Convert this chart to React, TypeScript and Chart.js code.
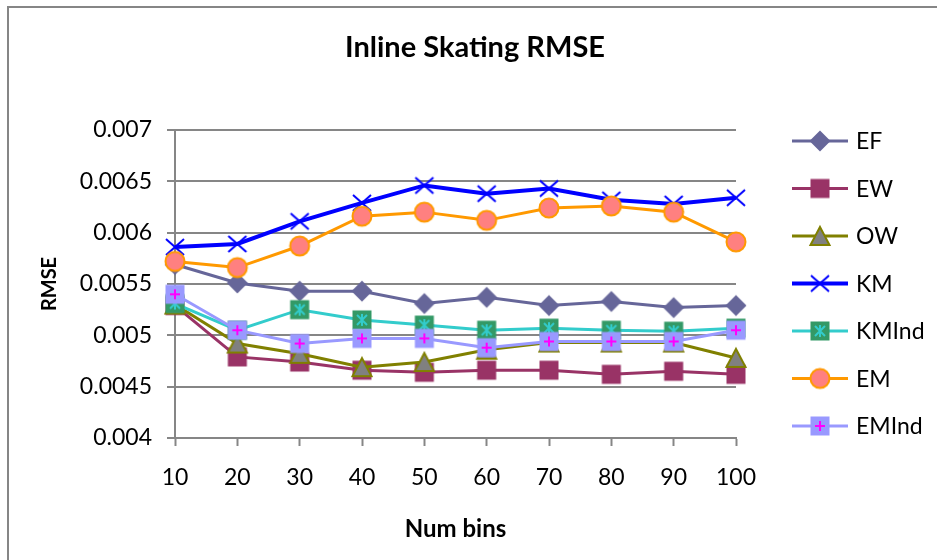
import React, { useEffect, useRef } from "react";
import { Chart, registerables } from "chart.js";

Chart.register(...registerables);

const categories = ["10", "20", "30", "40", "50", "60", "70", "80", "90", "100"];
const EF = [0.00569, 0.00551, 0.00543, 0.00543, 0.00531, 0.00537, 0.00529, 0.00533, 0.00527, 0.00529];
const EW = [0.00529, 0.00479, 0.00474, 0.00466, 0.00464, 0.00466, 0.00466, 0.00462, 0.00465, 0.00462];
const OW = [0.0053, 0.00492, 0.00482, 0.00469, 0.00474, 0.00486, 0.00493, 0.00493, 0.00493, 0.00478];
const KM = [0.00586, 0.00589, 0.00611, 0.00629, 0.00646, 0.00638, 0.00643, 0.00632, 0.00628, 0.00634];
const KMInd = [0.00531, 0.00505, 0.00525, 0.00515, 0.0051, 0.00505, 0.00507, 0.00505, 0.00504, 0.00507];
const EM = [0.00572, 0.00566, 0.00587, 0.00616, 0.0062, 0.00612, 0.00624, 0.00626, 0.0062, 0.00591];
const EMInd = [0.0054, 0.00505, 0.00492, 0.00497, 0.00497, 0.00488, 0.00494, 0.00494, 0.00494, 0.00505];

const seriesNames = ["EF", "EW", "OW", "KM", "KMInd", "EM", "EMInd"];
const seriesValues = [EF, EW, OW, KM, KMInd, EM, EMInd];
const lineColors = ["#666699", "#993366", "#808000", "#0000FF", "#33CCCC", "#FF9900", "#9999FF"];
const lineWidths = [3, 3, 3, 4, 3, 3, 3];
const markerKinds = ["diamond", "square", "triangle", "x", "star", "circle", "plus"];

const chartTitle = "Inline Skating RMSE";
const xTitle = "Num bins";
const yTitle = "RMSE";
const yMin = 0.004;
const yMax = 0.007;
const yStep = 0.0005;

const FONT = "Lato, 'Open Sans', sans-serif";

function makeMarker(kind: string): HTMLCanvasElement {
  const c = document.createElement("canvas");
  c.width = 24;
  c.height = 24;
  const ctx = c.getContext("2d")!;
  ctx.lineCap = "butt";
  if (kind === "diamond") {
    ctx.fillStyle = "#666699";
    ctx.beginPath();
    ctx.moveTo(12, 1.5);
    ctx.lineTo(22.5, 12);
    ctx.lineTo(12, 22.5);
    ctx.lineTo(1.5, 12);
    ctx.closePath();
    ctx.fill();
  } else if (kind === "square") {
    ctx.fillStyle = "#993366";
    ctx.fillRect(2.5, 2.5, 19, 19);
  } else if (kind === "triangle") {
    ctx.fillStyle = "#808080";
    ctx.strokeStyle = "#808000";
    ctx.lineWidth = 2;
    ctx.beginPath();
    ctx.moveTo(12, 3);
    ctx.lineTo(21.5, 21);
    ctx.lineTo(2.5, 21);
    ctx.closePath();
    ctx.fill();
    ctx.stroke();
  } else if (kind === "x") {
    ctx.strokeStyle = "#0000FF";
    ctx.lineWidth = 2;
    ctx.beginPath();
    ctx.moveTo(3, 4);
    ctx.lineTo(21, 20);
    ctx.moveTo(21, 4);
    ctx.lineTo(3, 20);
    ctx.stroke();
  } else if (kind === "star") {
    ctx.fillStyle = "#339966";
    ctx.fillRect(2.5, 2.5, 19, 19);
    ctx.strokeStyle = "#33CCCC";
    ctx.lineWidth = 2;
    ctx.beginPath();
    ctx.moveTo(12, 6);
    ctx.lineTo(12, 18);
    ctx.moveTo(7, 7);
    ctx.lineTo(17, 17);
    ctx.moveTo(17, 7);
    ctx.lineTo(7, 17);
    ctx.stroke();
  } else if (kind === "circle") {
    ctx.fillStyle = "#FF8080";
    ctx.strokeStyle = "#FF9900";
    ctx.lineWidth = 2;
    ctx.beginPath();
    ctx.arc(12, 12, 9.5, 0, Math.PI * 2);
    ctx.fill();
    ctx.stroke();
  } else if (kind === "plus") {
    ctx.fillStyle = "#9999FF";
    ctx.fillRect(2.5, 2.5, 19, 19);
    ctx.strokeStyle = "#FF00FF";
    ctx.lineWidth = 2;
    ctx.beginPath();
    ctx.moveTo(12, 7);
    ctx.lineTo(12, 17);
    ctx.moveTo(7, 12);
    ctx.lineTo(17, 12);
    ctx.stroke();
  }
  return c;
}

export default function App() {
  const ref = useRef<HTMLCanvasElement | null>(null);

  useEffect(() => {
    const canvas = ref.current;
    if (!canvas) return;
    const markers = markerKinds.map(makeMarker);

    const decor = {
      id: "decor",
      beforeDraw(chart: any) {
        const ctx = chart.ctx;
        ctx.save();
        ctx.fillStyle = "#ffffff";
        ctx.fillRect(0, 0, chart.width, chart.height);
        ctx.strokeStyle = "#868686";
        ctx.lineWidth = 2;
        ctx.strokeRect(8, 7, chart.width + 20, chart.height + 20);
        ctx.fillStyle = "#000";
        ctx.font = `bold 29px ${FONT}`;
        ctx.textAlign = "center";
        ctx.textBaseline = "middle";
        ctx.fillText(chartTitle, 475, 48);
        ctx.restore();
      },
      afterDraw(chart: any) {
        const ctx = chart.ctx;
        ctx.save();
        chart.data.datasets.forEach((ds: any, i: number) => {
          const y = 141 + i * 47.5;
          ctx.strokeStyle = ds.borderColor;
          ctx.lineWidth = ds.borderWidth;
          ctx.beginPath();
          ctx.moveTo(792, y);
          ctx.lineTo(848, y);
          ctx.stroke();
          const m = ds.pointStyle as HTMLCanvasElement;
          ctx.drawImage(m, 820 - m.width / 2, y - m.height / 2);
          ctx.fillStyle = "#000";
          ctx.font = `23px ${FONT}`;
          ctx.textAlign = "left";
          ctx.textBaseline = "middle";
          ctx.fillText(ds.label, 856, y + 1);
        });
        ctx.restore();
      },
    };

    const chart = new Chart(canvas, {
      type: "line",
      data: {
        labels: categories,
        datasets: seriesNames.map((name, i) => ({
          label: name,
          data: seriesValues[i],
          borderColor: lineColors[i],
          backgroundColor: lineColors[i],
          borderWidth: lineWidths[i],
          pointStyle: markers[i] as any,
          pointRadius: 10,
          tension: 0,
          fill: false,
          order: seriesNames.length - i,
        })),
      },
      options: {
        responsive: false,
        animation: false,
        events: [],
        layout: { padding: { left: 0, top: 130, right: 201, bottom: 0 } },
        plugins: {
          legend: { display: false },
          title: { display: false },
          tooltip: { enabled: false },
        },
        scales: {
          x: {
            type: "category",
            offset: false,
            afterFit: (s: any) => {
              s.height = 122;
            },
            grid: {
              display: true,
              drawOnChartArea: false,
              drawTicks: true,
              tickLength: 8,
              tickWidth: 2,
              color: "#868686",
            },
            border: { display: true, color: "#868686", width: 2 },
            ticks: {
              color: "#000",
              font: { family: FONT, size: 23 },
              padding: 18,
              maxRotation: 0,
              autoSkip: false,
            },
            title: {
              display: true,
              text: xTitle,
              color: "#000",
              font: { family: FONT, size: 24, weight: "bold" },
              padding: { top: 0, bottom: 16 },
            },
          },
          y: {
            type: "linear",
            min: yMin,
            max: yMax,
            afterFit: (s: any) => {
              s.width = 175;
            },
            grid: {
              display: true,
              drawOnChartArea: true,
              drawTicks: true,
              tickLength: 8,
              lineWidth: 2,
              color: "#868686",
            },
            border: { display: true, color: "#868686", width: 2 },
            ticks: {
              stepSize: yStep,
              color: "#000",
              font: { family: FONT, size: 23 },
              padding: 15,
              callback: (v: any) => String(Number(Number(v).toFixed(5))),
            },
            title: {
              display: true,
              text: yTitle,
              color: "#000",
              font: { family: FONT, size: 20, weight: "bold" },
              padding: { top: 38, bottom: 0 },
            },
          },
        },
      },
      plugins: [decor],
    });
    return () => chart.destroy();
  }, []);

  return (
    <canvas
      ref={ref}
      width={937}
      height={560}
      style={{ position: "absolute", left: 0, top: 0, width: 937, height: 560 }}
    />
  );
}
